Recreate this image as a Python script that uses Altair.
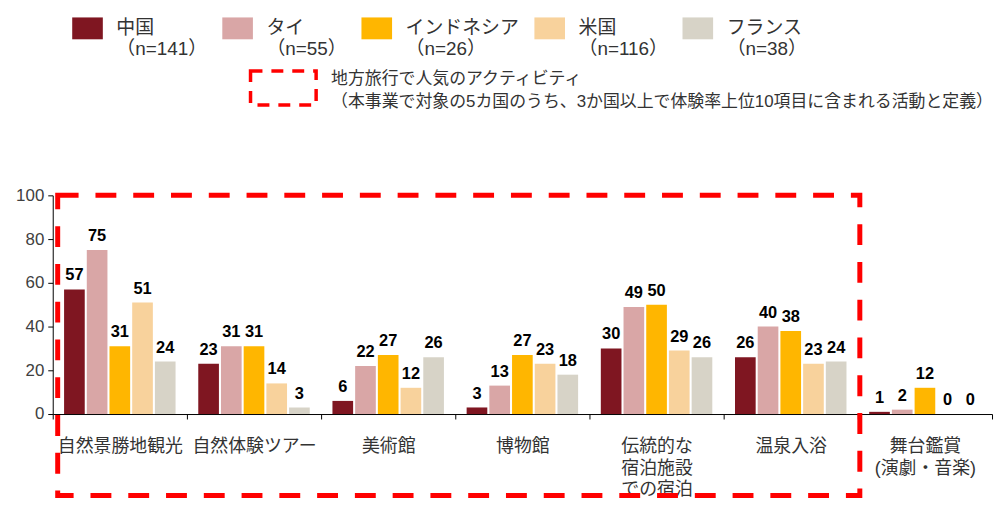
import altair as alt
import pandas as pd

categories = ["自然景勝地観光", "自然体験ツアー", "美術館", "博物館",
              "伝統的な\n宿泊施設\nでの宿泊", "温泉入浴", "舞台鑑賞\n(演劇・音楽)"]
countries = ["中国", "タイ", "インドネシア", "米国", "フランス"]
sample_sizes = [141, 55, 26, 116, 38]
china = [57, 23, 6, 3, 30, 26, 1]
thailand = [75, 31, 22, 13, 49, 40, 2]
indonesia = [31, 31, 27, 27, 50, 38, 12]
usa = [51, 14, 12, 23, 29, 23, 0]
france = [24, 3, 26, 18, 26, 24, 0]
colors = ["#7F1621", "#D9A6A6", "#FFB600", "#F8D29C", "#D7D3C7"]
y_ticks = [0, 20, 40, 60, 80, 100]
note_lines = ["地方旅行で人気のアクティビティ",
              "（本事業で対象の5カ国のうち、3か国以上で体験率上位10項目に含まれる活動と定義）"]

FONT = 'Liberation Sans, "Noto Sans CJK JP"'
W, H = 945, 220

series = [china, thailand, indonesia, usa, france]
legend_keys = [f"{c}\n（n={n}）" for c, n in zip(countries, sample_sizes)]
rows = []
for key, vals in zip(legend_keys, series):
    for cat, v in zip(categories, vals):
        rows.append({"category": cat, "country": key, "value": v})
df = pd.DataFrame(rows)

x_enc = alt.X("category:N", sort=categories,
              scale=alt.Scale(paddingInner=0, paddingOuter=0),
              axis=alt.Axis(title=None, labelAngle=0,
                            labelExpr="split(datum.label, '\\n')",
                            labelFont=FONT, labelFontSize=18, labelColor="#333333",
                            labelLineHeight=21.5, labelPadding=19, labelBaseline="top",
                            tickBand="extent", tickSize=5, tickColor="black",
                            domainColor="black", grid=False))
xoff_enc = alt.XOffset("country:N", sort=legend_keys,
                       scale=alt.Scale(paddingInner=0.09, paddingOuter=0.5))
y_enc = alt.Y("value:Q", scale=alt.Scale(domain=[0, 100], nice=False),
              axis=alt.Axis(title=None, values=y_ticks, labelFont=FONT,
                            labelFontSize=17, labelColor="#404040", labelPadding=4,
                            tickSize=5, tickColor="black", domainColor="black",
                            grid=False))

bars = alt.Chart(df).mark_bar().encode(
    x=x_enc, xOffset=xoff_enc, y=y_enc,
    color=alt.Color("country:N", sort=legend_keys,
                    scale=alt.Scale(domain=legend_keys, range=colors),
                    legend=alt.Legend(
                        title=None, orient="none", legendX=24, legendY=-179,
                        direction="horizontal", padding=0,
                        symbolType="M-1.4,-1H1.4V1H-1.4Z", symbolSize=484,
                        symbolStrokeWidth=0, symbolOpacity=1,
                        labelExpr="split(datum.label, '\\n')",
                        labelFont=FONT, labelFontSize=19, labelColor="#333333",
                        labelBaseline="middle", labelOffset=18, labelLimit=400,
                        columnPadding=14)),
)

labels = alt.Chart(df).mark_text(
    font="Liberation Sans", fontWeight="bold", fontSize=16.5, color="black",
    baseline="alphabetic", dy=-9,
).encode(x=x_enc, xOffset=xoff_enc, y=y_enc, text="value:Q")

one = pd.DataFrame({"k": [0]})
big_box = alt.Chart(one).mark_rect(
    fill="white", fillOpacity=0, stroke="#FF0000", strokeWidth=5,
    strokeDash=[21, 17],
).encode(x=alt.value(5), x2=alt.value(812), y=alt.value(0), y2=alt.value(302))

sample_box = alt.Chart(one).mark_rect(
    fill="white", fillOpacity=0, stroke="#FF0000", strokeWidth=3.5,
    strokeDash=[12, 9],
).encode(x=alt.value(199), x2=alt.value(265), y=alt.value(-125), y2=alt.value(-91))

notes = alt.Chart(pd.DataFrame({"note": ["\n".join(note_lines)]})).mark_text(
    font=FONT, fontSize=17, color="#333333", align="left", baseline="middle",
    lineBreak="\n", lineHeight=23,
).encode(x=alt.value(280), y=alt.value(-117), text="note:N")

chart = alt.layer(bars, labels, big_box, sample_box, notes).properties(
    width=W, height=H,
    autosize=alt.AutoSizeParams(type="none"),
    padding={"left": 45, "top": 187, "right": 4, "bottom": 85},
).configure_view(stroke=None)

chart.save("out.html", embed_options={"renderer": "svg", "actions": False})
